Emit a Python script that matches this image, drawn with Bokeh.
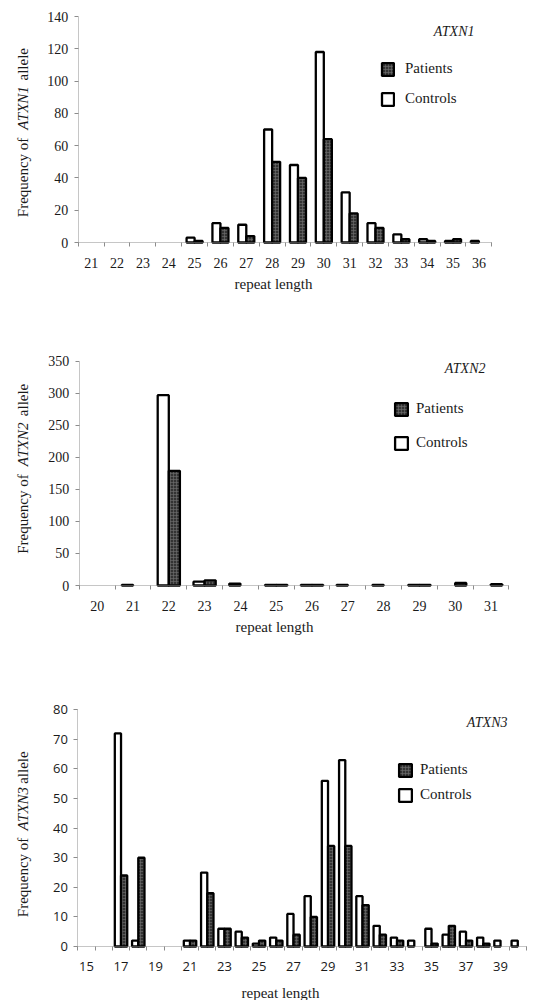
import math
from bokeh.plotting import figure
from bokeh.models import (ColumnDataSource, FixedTicker, Label, Legend, LegendItem,
                          Range1d, LinearAxis)
from bokeh.layouts import column
from bokeh.embed import file_html
from bokeh.resources import INLINE

# ---------------- data ----------------
atxn1_lengths = [21, 22, 23, 24, 25, 26, 27, 28, 29, 30, 31, 32, 33, 34, 35, 36]
atxn1_controls = [0, 0, 0, 0, 3, 12, 11, 70, 48, 118, 31, 12, 5, 2, 1, 1]
atxn1_patients = [0, 0, 0, 0, 1, 9, 4, 50, 40, 64, 18, 9, 2, 1, 2, 0]
atxn1_yticks = [0, 20, 40, 60, 80, 100, 120, 140]

atxn2_lengths = [20, 21, 22, 23, 24, 25, 26, 27, 28, 29, 30, 31]
atxn2_controls = [0, 1, 297, 6, 3, 1, 1, 1, 1, 1, 0, 0]
atxn2_patients = [0, 0, 179, 8, 0, 1, 1, 0, 0, 1, 4, 2]
atxn2_yticks = [0, 50, 100, 150, 200, 250, 300, 350]

atxn3_lengths = list(range(15, 41))
atxn3_controls = [0, 0, 72, 2, 0, 0, 2, 25, 6, 5, 1, 3, 11, 17, 56, 63, 17, 7, 3, 2, 6, 4, 5, 3, 2, 2]
atxn3_patients = [0, 0, 24, 30, 0, 0, 2, 18, 6, 3, 2, 2, 4, 10, 34, 34, 14, 4, 2, 0, 1, 7, 2, 1, 0, 0]
atxn3_yticks = [0, 10, 20, 30, 40, 50, 60, 70, 80]
atxn3_xlabels = [15, 17, 19, 21, 23, 25, 27, 29, 31, 33, 35, 37, 39]

SERIF = "Liberation Serif"
SANS = "Open Sans"
TXT = "#1a1a1a"
AXC = "#8c8c8c"
PAT_FILL = "#333333"
W = 536


def make_chart(gene, lengths, controls, patients, yticks, xlabels, L):
    """L holds layout positions in page pixels (frame edges, text anchors)."""
    T, H = L["top"], L["H"]
    sy = lambda py: T + H - py          # page y -> screen y (from bottom)
    x_lo, x_hi = lengths[0] - 0.5, lengths[-1] + 0.5
    xs = (L["x1"] - L["x0"]) / (x_hi - x_lo)
    ymax = yticks[-1]
    ys = (L["y0"] - L["ytop"]) / ymax
    xr = Range1d(x_lo - L["x0"] / xs, x_hi + (W - L["x1"]) / xs)
    yr = Range1d(-(T + H - L["y0"]) / ys, ymax + (L["ytop"] - T) / ys)

    p = figure(width=W, height=H, output_backend="svg", toolbar_location=None,
               x_range=xr, y_range=yr, x_axis_location=None, y_axis_location=None,
               min_border=0)
    p.outline_line_color = None
    p.xgrid.visible = False
    p.ygrid.visible = False

    bw = L["bw"]
    cx = [x - bw / 2 for x, c in zip(lengths, controls) if c > 0]
    cy = [c for c in controls if c > 0]
    px = [x + bw / 2 for x, v in zip(lengths, patients) if v > 0]
    py = [v for v in patients if v > 0]
    r_c = p.vbar(x="x", top="top", bottom=0, width=bw,
                 source=ColumnDataSource(dict(x=cx, top=cy)),
                 fill_color="white", line_color="black", line_width=2.3)
    r_p = p.vbar(x="x", top="top", bottom=0, width=bw,
                 source=ColumnDataSource(dict(x=px, top=py)),
                 fill_color=PAT_FILL, line_color="black", line_width=2.3,
                 hatch_pattern="+", hatch_color="#707070", hatch_scale=3, hatch_weight=0.6)

    # x axis at y = 0
    boundaries = [x - 0.5 for x in lengths] + [x_hi]
    xa = LinearAxis(fixed_location=0, bounds=(x_lo, x_hi),
                    ticker=FixedTicker(ticks=xlabels, minor_ticks=boundaries))
    xa.major_tick_line_color = None
    xa.minor_tick_out = 4
    xa.minor_tick_in = 0
    xa.minor_tick_line_color = AXC
    xa.axis_line_color = AXC
    xa.axis_line_dash = "1 1"
    xa.major_label_standoff = L["xstand"]
    # y axis at left boundary
    ya = LinearAxis(fixed_location=x_lo, bounds=(0, ymax),
                    ticker=FixedTicker(ticks=yticks, minor_ticks=[]))
    ya.major_tick_out = 4
    ya.major_tick_in = 0
    ya.major_tick_line_color = AXC
    ya.minor_tick_line_color = None
    ya.axis_line_color = AXC
    ya.axis_line_dash = "1 1"
    ya.major_label_standoff = 6
    for ax in (xa, ya):
        ax.major_label_text_font = L["tickfont"]
        ax.major_label_text_font_size = L["ticksize"]
        ax.major_label_text_color = TXT
    p.add_layout(xa, "below")
    p.add_layout(ya, "left")

    # gene name (italic) inside the plot, top right
    p.add_layout(Label(x=L["gene"][0], y=sy(L["gene"][1]), x_units="screen", y_units="screen",
                       text=gene, text_font=SERIF, text_font_style="italic",
                       text_font_size="14px", text_color=TXT,
                       text_align="right", text_baseline="middle"))

    # x axis title
    p.add_layout(Label(x=L["xt"][0], y=sy(L["xt"][1]), x_units="screen", y_units="screen",
                       text="repeat length", text_font=SERIF, text_font_size="15px",
                       text_color=TXT, text_align="center", text_baseline="middle"))

    # y axis title with the gene name in italics
    parts = [("Frequency of", "normal"), (gene, "italic"), ("allele", "normal")]
    for (txt, style), ypos in zip(parts, L["yt"]):
        p.add_layout(Label(x=L["ytx"], y=sy(ypos), x_units="screen", y_units="screen",
                           text=txt, text_font=SERIF, text_font_style=style,
                           text_font_size="15px", text_color=TXT, angle=math.pi / 2,
                           text_align="left", text_baseline="middle"))

    legend = Legend(items=[LegendItem(label="Patients", renderers=[r_p]),
                           LegendItem(label="Controls", renderers=[r_c])],
                    location=(L["leg"][0], sy(L["leg"][1])), orientation="vertical",
                    glyph_width=L["legglyph"][0], glyph_height=L["legglyph"][1],
                    label_height=L["legglyph"][1],
                    label_standoff=L["legstand"], spacing=L["legspace"],
                    padding=0, margin=0, border_line_color=None,
                    background_fill_alpha=0, label_text_font=SERIF,
                    label_text_font_size="15px", label_text_color=TXT)
    p.add_layout(legend)
    return p


L1 = dict(top=0, H=300, x0=77.8, x1=491.3, y0=242, ytop=16, bw=0.31, xstand=9,
          tickfont=SERIF, ticksize="14px", gene=(474, 31), xt=(273, 283),
          ytx=22, yt=[216.7, 129.3, 80], leg=(380, 107), legglyph=(15, 16),
          legstand=10, legspace=13)
p1 = make_chart("ATXN1", atxn1_lengths, atxn1_controls, atxn1_patients,
                atxn1_yticks, atxn1_lengths, L1)

L2 = dict(top=300, H=350, x0=78.8, x1=508.4, y0=585, ytop=360.7, bw=0.31, xstand=9,
          tickfont=SERIF, ticksize="14px", gene=(485, 368), xt=(274, 626),
          ytx=22, yt=[553.3, 465.7, 415.7], leg=(393, 451), legglyph=(16, 16),
          legstand=7, legspace=17)
p2 = make_chart("ATXN2", atxn2_lengths, atxn2_controls, atxn2_patients,
                atxn2_yticks, atxn2_lengths, L2)

L3 = dict(top=650, H=350, x0=77.4, x1=525.9, y0=946, ytop=709.3, bw=0.36, xstand=9,
          tickfont=SANS, ticksize="13px", gene=(507, 722), xt=(280, 992),
          ytx=22, yt=[916.7, 830, 783.3], leg=(397, 803), legglyph=(16, 16),
          legstand=7, legspace=8)
p3 = make_chart("ATXN3", atxn3_lengths, atxn3_controls, atxn3_patients,
                atxn3_yticks, atxn3_xlabels, L3)

layout = column(p1, p2, p3, spacing=0)
open("out.html", "w").write(file_html(layout, INLINE))
